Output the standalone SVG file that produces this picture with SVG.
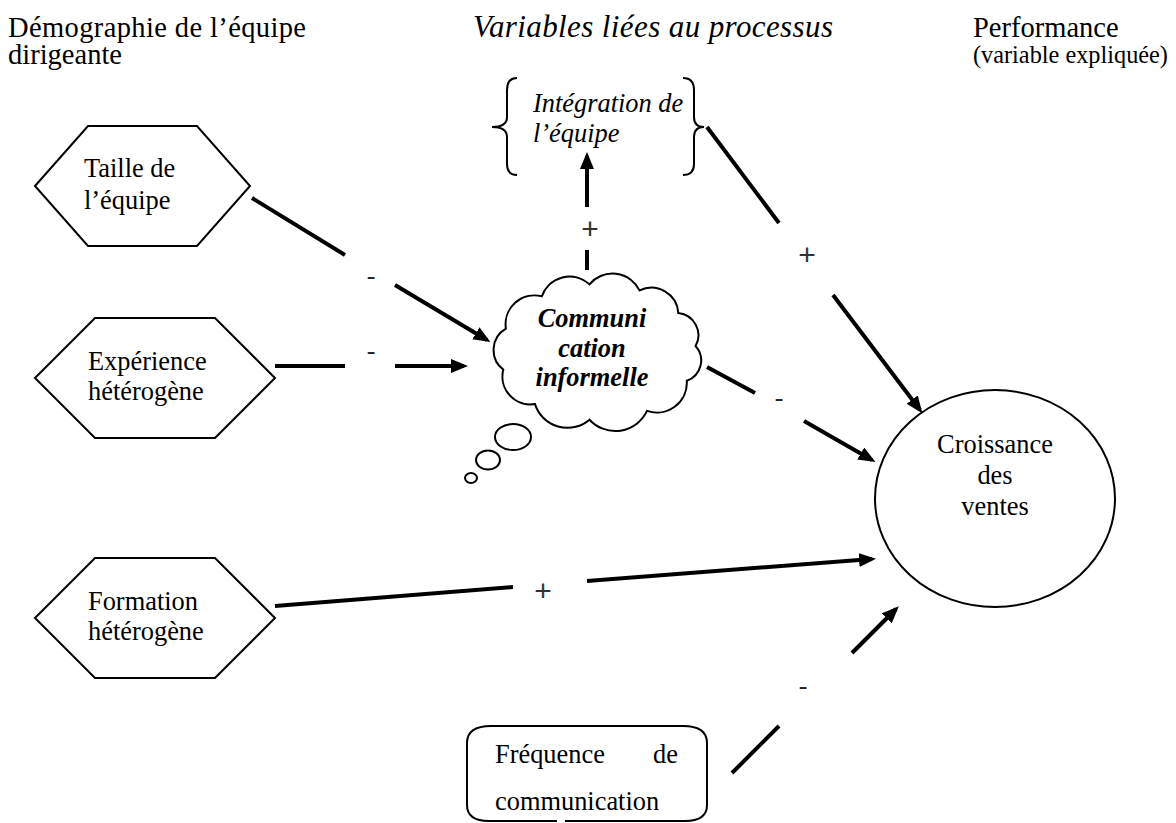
<svg xmlns="http://www.w3.org/2000/svg" width="1176" height="823" viewBox="0 0 1176 823">
<style>
text{font-family:"Liberation Serif","Times New Roman",serif;fill:#000}
.hdr{font-size:28.5px}
.n{font-size:26.4px}
.it{font-style:italic}
.bi{font-style:italic;font-weight:bold}
.lbl{font-size:26px;fill:#222}
.plus{font-family:"Liberation Sans",Arial,sans-serif;font-size:30px;fill:#333}
.shape{fill:#fff;stroke:#000;stroke-width:2}
.open{fill:none;stroke:#000;stroke-width:2}
.conn line{stroke:#000;stroke-width:4}
</style>
<defs>
<marker id="ah" markerUnits="userSpaceOnUse" markerWidth="18" markerHeight="16" refX="13" refY="7" orient="auto" viewBox="0 0 18 16">
<path d="M0,0 L17,7 L0,14 z" fill="#000"/>
</marker>
</defs>
<rect width="1176" height="823" fill="#fff"/>

<g id="headers">
<text class="hdr" x="8" y="37" textLength="298" lengthAdjust="spacing">Démographie de l’équipe</text>
<text class="hdr" x="8" y="64">dirigeante</text>
<text class="hdr it" x="473" y="37" style="font-size:31px" textLength="360" lengthAdjust="spacing">Variables liées au processus</text>
<text class="hdr" x="973" y="37">Performance</text>
<text x="973" y="63" style="font-size:24.3px">(variable expliquée)</text>
</g>

<g id="node-integration">
<path class="open" d="M517 78 Q507 78 507 90 L507 117 Q507 127 492 127 Q507 127 507 137 L507 164 Q507 175 517 175"/>
<path class="open" d="M683 78 Q694 78 694 90 L694 117 Q694 127 704 127 Q694 127 694 137 L694 164 Q694 175 683 175"/>
<text class="n it" x="533" y="112">Intégration de</text>
<text class="n it" x="533" y="142">l’équipe</text>
</g>

<g id="node-taille">
<polygon class="shape" points="35,186 88,126 197,126 250,186 197,246 88,246"/>
<text class="n" x="84" y="177">Taille de</text>
<text class="n" x="84" y="209">l’équipe</text>
</g>

<g id="node-experience">
<polygon class="shape" points="35,378 95,318 215,318 275,378 215,438 95,438"/>
<text class="n" x="88" y="370">Expérience</text>
<text class="n" x="88" y="400">hétérogène</text>
</g>

<g id="node-formation">
<polygon class="shape" points="35,618 95,558 215,558 275,618 215,678 95,678"/>
<text class="n" x="88" y="610">Formation</text>
<text class="n" x="88" y="640">hétérogène</text>
</g>

<g id="node-communication">
<path class="shape" d="M505.9 328.7 A29 29 0 0 1 541.8 296.3 A29.5 29.5 0 0 1 589.5 284.3 A30 30 0 0 1 639.5 290.4 A27 27 0 0 1 678.3 313 A22.4 22.4 0 0 1 695.6 346.1 A21.5 21.5 0 0 1 686.8 380.8 A30 30 0 0 1 647 410.9 A35 35 0 0 1 589.5 419.7 A34 34 0 0 1 535 404.1 A28 28 0 0 1 503.3 369.6 A24.6 24.6 0 0 1 505.9 328.7 Z"/>
<ellipse class="shape" cx="513" cy="437" rx="18" ry="13"/>
<ellipse class="shape" cx="488" cy="460" rx="12" ry="9.5"/>
<ellipse class="shape" cx="471" cy="478" rx="6" ry="5"/>
<text class="n bi" x="592" y="327" text-anchor="middle">Communi</text>
<text class="n bi" x="592" y="357" text-anchor="middle">cation</text>
<text class="n bi" x="592" y="386" text-anchor="middle">informelle</text>
</g>

<g id="node-croissance">
<ellipse class="shape" cx="995" cy="498.5" rx="120" ry="108.5"/>
<text class="n" x="995" y="453" text-anchor="middle">Croissance</text>
<text class="n" x="995" y="484" text-anchor="middle">des</text>
<text class="n" x="995" y="515" text-anchor="middle">ventes</text>
</g>

<g id="node-frequence">
<path class="shape" d="M557 821 L489 821 Q467 821 467 805 L467 743 Q467 726 491 726 L683 726 Q707 726 707 743 L707 805 Q707 821 685 821 L565 821"/>
<text class="n" x="495" y="763">Fréquence</text>
<text class="n" x="678" y="763" text-anchor="end">de</text>
<text class="n" x="495" y="810">communication</text>
</g>

<g id="connectors" class="conn">
<line x1="252" y1="198" x2="345" y2="255"/>
<line x1="395" y1="285" x2="487" y2="340" marker-end="url(#ah)"/>
<line x1="275" y1="366" x2="345" y2="366"/>
<line x1="395" y1="366" x2="464" y2="366" marker-end="url(#ah)"/>
<line x1="707" y1="367" x2="755" y2="393"/>
<line x1="804" y1="421" x2="872" y2="460" marker-end="url(#ah)"/>
<line x1="707" y1="127" x2="779" y2="223"/>
<line x1="833" y1="295" x2="920" y2="410" marker-end="url(#ah)"/>
<line x1="275" y1="606" x2="513" y2="587"/>
<line x1="587" y1="581" x2="872" y2="559" marker-end="url(#ah)"/>
<line x1="732" y1="773" x2="779" y2="726"/>
<line x1="852" y1="653" x2="896" y2="609" marker-end="url(#ah)"/>
<line x1="587" y1="270" x2="587" y2="250"/>
<line x1="587" y1="207" x2="587" y2="156" marker-end="url(#ah)"/>
</g>

<g id="labels">
<text class="lbl" x="371" y="283.5" text-anchor="middle">-</text>
<text class="lbl" x="371" y="359" text-anchor="middle">-</text>
<text class="lbl" x="779" y="405.5" text-anchor="middle">-</text>
<text class="plus" x="807" y="264.5" text-anchor="middle">+</text>
<text class="plus" x="543" y="600.5" text-anchor="middle">+</text>
<text class="lbl" x="803" y="693.5" text-anchor="middle">-</text>
<text class="plus" x="590" y="238.5" text-anchor="middle">+</text>
</g>
</svg>
